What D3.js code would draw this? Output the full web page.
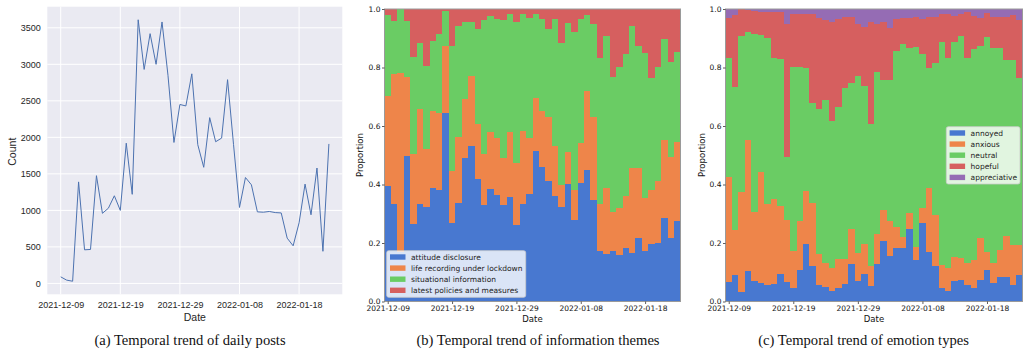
<!DOCTYPE html>
<html>
<head>
<meta charset="utf-8">
<script src="https://cdn.jsdelivr.net/npm/d3@7"></script>
<style>
  body { margin: 0; background: #fff; }
  svg { display: block; }
</style>
</head>
<body>
<svg id="chart" width="1024" height="352"></svg>
<script>
// one point / bar per day, 2021-12-09 .. 2022-01-23
const days = d3.timeDay.range(new Date(2021, 11, 9), new Date(2022, 0, 24));
const tickLabels = ['2021-12-09', '2021-12-19', '2021-12-29', '2022-01-08', '2022-01-18'];

// (a) daily posts
const dailyPosts = [90, 45, 30, 1390, 460, 465, 1475, 960, 1030, 1200, 1000, 1920, 1220, 3610, 2930, 3420,
  3000, 3580, 2850, 1930, 2450, 2430, 2870, 1900, 1590, 2270, 1940, 1990, 2790, 1900, 1040, 1450,
  1350, 980, 975, 985, 970, 965, 620, 515, 830, 1360, 940, 1580, 440, 1910];

// (b) information themes (share per day)
const themeNames = ['attitude disclosure', 'life recording under lockdown', 'situational information', 'latest policies and measures'];
const attitude = [.394, .333, .170, .499, .265, .333, .323, .389, .380, .643, .267, .336, .492, .531, .419, .330,
  .385, .364, .330, .358, .261, .332, .366, .514, .459, .413, .362, .322, .402, .279, .404, .450,
  .347, .173, .161, .173, .159, .184, .165, .216, .174, .197, .200, .287, .218, .275];
const lifeRecording = [.308, .444, .611, .269, .238, .324, .198, .262, .265, .232, .180, .227, .199, .240, .188, .173,
  .193, .196, .160, .222, .211, .251, .194, .181, .192, .217, .168, .076, .110, .102, .137, .270,
  .283, .160, .228, .134, .159, .177, .291, .240, .179, .184, .213, .265, .277, .272];
const situational = [.277, .182, .219, .192, .334, .228, .283, .239, .268, .118, .428, .378, .266, .184, .325, .461,
  .399, .406, .474, .403, .483, .399, .408, .288, .315, .300, .436, .485, .439, .539, .425, .260,
  .319, .501, .520, .459, .485, .484, .486, .417, .498, .384, .390, .344, .325, .307];
const policies = [.021, .041, 0, .040, .163, .115, .196, .110, .087, .007, .125, .059, .043, .045, .068, .036,
  .023, .034, .036, .017, .045, .018, .032, .017, .034, .070, .034, .117, .049, .080, .034, .020,
  .051, .166, .091, .234, .197, .155, .058, .127, .149, .235, .197, .104, .180, .146];

// (c) emotion types (share per day)
const emotionNames = ['annoyed', 'anxious', 'neutral', 'hopeful', 'appreciative'];
const annoyed = [.066, .089, .034, .104, .070, .062, .056, .059, .093, .068, .047, .108, .196, .121, .056, .051,
  .036, .045, .061, .129, .071, .094, .053, .129, .207, .156, .182, .182, .247, .142, .267, .168,
  .121, .047, .037, .070, .072, .056, .045, .074, .108, .062, .085, .083, .056, .089];
const anxious = [.361, .155, .339, .448, .237, .382, .277, .290, .233, .211, .126, .167, .182, .215, .108, .082,
  .077, .100, .084, .118, .096, .103, .070, .101, .106, .119, .074, .040, .054, .046, .051, .221,
  .175, .078, .076, .083, .076, .075, .097, .142, .062, .069, .091, .141, .137, .104];
const neutral = [.404, .490, .535, .368, .606, .467, .567, .484, .503, .216, .628, .526, .422, .344, .494, .556,
  .504, .521, .586, .501, .605, .541, .484, .556, .444, .482, .600, .658, .567, .683, .528, .408,
  .521, .761, .720, .735, .761, .700, .720, .658, .733, .737, .690, .601, .632, .570];
const hopeful = [.138, .245, .092, .077, .081, .080, .089, .158, .160, .454, .181, .181, .182, .303, .312, .273,
  .340, .300, .240, .223, .177, .202, .348, .163, .200, .179, .110, .088, .100, .100, .120, .174,
  .154, .096, .149, .088, .073, .158, .115, .096, .082, .106, .108, .149, .155, .198];
const appreciative = [.031, .021, 0, .003, .006, .009, .011, .009, .011, .051, .018, .018, .018, .017, .030, .038,
  .043, .034, .029, .029, .051, .060, .045, .051, .043, .064, .034, .032, .032, .029, .034, .029,
  .029, .018, .018, .024, .018, .011, .023, .030, .015, .026, .026, .026, .020, .039];

const muted = ['#4878d0', '#ee854a', '#6acc64', '#d65f5f', '#956cb4'];
const captions = ['(a) Temporal trend of daily posts', '(b) Temporal trend of information themes', '(c) Temporal trend of emotion types'];

const parseDay = d3.timeParse('%Y-%m-%d');
const tickDates = tickLabels.map(parseDay);
const svg = d3.select('#chart');
const SANS = 'Liberation Sans, Arial, sans-serif';
const DEJAVU = 'DejaVu Sans, sans-serif';

function drawCounts() {
  const L = 47.3, R = 342.3, T = 6.7, B = 294.3;
  const pad = 0.05;
  const t0 = +days[0], t1 = +days[days.length - 1];
  const x = d3.scaleTime()
    .domain([new Date(t0 - (t1 - t0) * pad), new Date(t1 + (t1 - t0) * pad)])
    .range([L, R]);
  const [lo, hi] = d3.extent(dailyPosts);
  const y = d3.scaleLinear()
    .domain([lo - (hi - lo) * pad, hi + (hi - lo) * pad])
    .range([B, T]);

  const g = svg.append('g').attr('id', 'counts');
  g.append('rect').attr('x', L).attr('y', T).attr('width', R - L).attr('height', B - T).attr('fill', '#eaeaf2');

  // grid
  g.append('g').selectAll('line.h')
    .data(y.ticks(8))
    .enter().append('line')
    .attr('x1', L).attr('x2', R)
    .attr('y1', d => y(d)).attr('y2', d => y(d))
    .attr('stroke', '#fff').attr('stroke-width', 1);
  g.append('g').selectAll('line.v')
    .data(tickDates)
    .enter().append('line')
    .attr('y1', T).attr('y2', B)
    .attr('x1', d => x(d)).attr('x2', d => x(d))
    .attr('stroke', '#fff').attr('stroke-width', 1);

  const yAxis = g.append('g')
    .attr('transform', `translate(${L},0)`)
    .call(d3.axisLeft(y).ticks(8).tickSize(0).tickPadding(6.6).tickFormat(d3.format('d')));
  const xAxis = g.append('g')
    .attr('transform', `translate(0,${B})`)
    .call(d3.axisBottom(x).tickValues(tickDates).tickSize(0).tickPadding(7).tickFormat(d3.timeFormat('%Y-%m-%d')));
  [yAxis, xAxis].forEach(a => {
    a.select('.domain').remove();
    a.selectAll('text').attr('font-family', SANS).attr('font-size', 9).attr('fill', '#262626');
  });

  g.append('path')
    .datum(dailyPosts)
    .attr('fill', 'none')
    .attr('stroke', '#4c72b0')
    .attr('stroke-width', 1)
    .attr('stroke-linejoin', 'round')
    .attr('d', d3.line().x((d, i) => x(days[i])).y(d => y(d)));

  g.append('text').attr('x', (L + R) / 2).attr('y', 320.5)
    .attr('text-anchor', 'middle').attr('font-family', SANS).attr('font-size', 10.5).attr('fill', '#262626')
    .text('Date');
  g.append('text').attr('transform', 'translate(15.5,151.7) rotate(-90)')
    .attr('text-anchor', 'middle').attr('font-family', SANS).attr('font-size', 10.5).attr('fill', '#262626')
    .text('Count');
}

function drawShares(id, L, R, series, names, legendBox, labelX) {
  const T = 9, B = 301.5;
  const halfDay = 12 * 3600 * 1000;
  const x = d3.scaleTime()
    .domain([new Date(+days[0] - halfDay), new Date(+days[days.length - 1] + halfDay)])
    .range([L, R]);
  const y = d3.scaleLinear().domain([0, 1]).range([B, T]);

  const rows = days.map((d, i) => {
    const r = { date: d };
    names.forEach((n, k) => { r[n] = series[k][i]; });
    return r;
  });
  const stacked = d3.stack().keys(names).offset(d3.stackOffsetExpand)(rows);

  const g = svg.append('g').attr('id', id);
  g.selectAll('g.layer')
    .data(stacked)
    .enter().append('g')
    .attr('class', 'layer')
    .attr('fill', (d, k) => muted[k])
    .selectAll('rect')
    .data(d => d)
    .enter().append('rect')
    .attr('shape-rendering', 'crispEdges')
    .attr('x', d => x(new Date(+d.data.date - halfDay)))
    .attr('width', d => x(new Date(+d.data.date + halfDay)) - x(new Date(+d.data.date - halfDay)))
    .attr('y', d => y(d[1]))
    .attr('height', d => y(d[0]) - y(d[1]));

  // spines
  g.append('rect').attr('x', L).attr('y', T).attr('width', R - L).attr('height', B - T)
    .attr('fill', 'none').attr('stroke', '#9a9a9a').attr('stroke-width', 1);

  const yAxis = g.append('g')
    .attr('transform', `translate(${L},0)`)
    .call(d3.axisLeft(y).ticks(5).tickSize(2.5).tickPadding(1.5).tickFormat(d3.format('.1f')));
  const xAxis = g.append('g')
    .attr('transform', `translate(0,${B})`)
    .call(d3.axisBottom(x).tickValues(tickDates).tickSize(2.5).tickPadding(1.3).tickFormat(d3.timeFormat('%Y-%m-%d')));
  [yAxis, xAxis].forEach(a => {
    a.select('.domain').remove();
    a.selectAll('line').attr('stroke', '#333').attr('stroke-width', 0.8);
    a.selectAll('text').attr('font-family', DEJAVU).attr('font-size', 7.5).attr('fill', '#111');
  });

  g.append('text').attr('x', (L + R) / 2).attr('y', 321.5)
    .attr('text-anchor', 'middle').attr('font-family', DEJAVU).attr('font-size', 8.5).attr('fill', '#111')
    .text('Date');
  g.append('text').attr('transform', `translate(${labelX},155) rotate(-90)`)
    .attr('text-anchor', 'middle').attr('font-family', DEJAVU).attr('font-size', 8.5).attr('fill', '#111')
    .text('Proportion');

  // legend
  const lg = g.append('g').attr('transform', `translate(${legendBox.x},${legendBox.y})`);
  lg.append('rect').attr('width', legendBox.w).attr('height', legendBox.h).attr('rx', 2)
    .attr('fill', '#fff').attr('fill-opacity', 0.8).attr('stroke', '#cccccc').attr('stroke-width', 0.8);
  const item = lg.selectAll('g.item')
    .data(names)
    .enter().append('g')
    .attr('class', 'item')
    .attr('transform', (d, k) => `translate(0,${6.3 + k * 11.1})`);
  item.append('rect').attr('x', 3.3).attr('y', -2.7).attr('width', 15.5).attr('height', 5.4)
    .attr('fill', (d, k) => muted[k]);
  item.append('text').attr('x', 24.3).attr('dy', '0.35em')
    .attr('font-family', DEJAVU).attr('font-size', 7.5).attr('fill', '#222')
    .text(d => d);
}

drawCounts();
drawShares('themes', 384.5, 680.5, [attitude, lifeRecording, situational, policies], themeNames,
  { x: 386.7, y: 250.7, w: 139, h: 46.6 }, 363);
drawShares('emotions', 725.5, 1022.5, [annoyed, anxious, neutral, hopeful, appreciative], emotionNames,
  { x: 946.3, y: 126.7, w: 73.7, h: 57.3 }, 705);

svg.selectAll('text.caption')
  .data(captions)
  .enter().append('text')
  .attr('class', 'caption')
  .attr('x', (d, i) => [190, 538, 863.6][i])
  .attr('y', 345)
  .attr('text-anchor', 'middle')
  .attr('font-family', 'Liberation Serif, Times New Roman, serif')
  .attr('font-size', 14.6)
  .attr('fill', '#111')
  .text(d => d);
</script>
</body>
</html>
